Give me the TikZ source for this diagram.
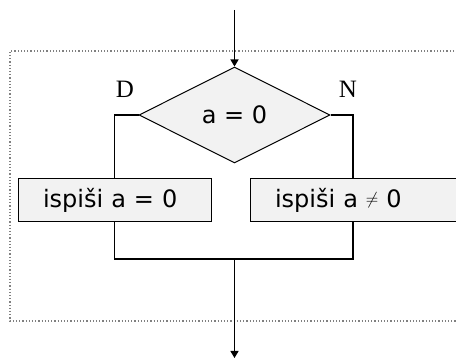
\documentclass[tikz,border=0pt]{standalone}
\usepackage{fontspec}
\setmainfont{DejaVu Sans}
\newfontfamily\labelfont{Liberation Serif}
\usetikzlibrary{shapes.geometric,arrows.meta}
\newcommand{\notequal}{\raisebox{3.5pt}{\fontsize{18}{18}\selectfont$\neq$}}
\begin{document}
\begin{tikzpicture}[x=1pt,y=-1pt,
  flow/.style={line width=1.2pt,draw=black},
  arr/.style={flow,-{Triangle[length=7pt,width=8pt]}},
  cond/.style={diamond,draw=black,line width=1pt,fill=gray!10,inner sep=0pt,
    minimum width=191pt,minimum height=96pt,font=\fontsize{24}{26}\selectfont},
  act/.style={rectangle,draw=black,line width=1pt,fill=gray!10,inner ysep=0pt,
    inner xsep=25pt,minimum height=43pt,align=left,
    font=\fontsize{24}{26}\selectfont},
  branch/.style={font=\labelfont\fontsize{25}{27}\selectfont}]
  \useasboundingbox (0,0) rectangle (456,358);
  % dotted block frame
  \draw[gray,dotted,line width=1.2pt] (470,51) -- (10,51) -- (10,321) -- (470,321);
  % nodes
  \coordinate (in) at (234.5,10);
  \node[cond] (dia) at (234.5,115) {a = 0};
  \node[act,text width=143pt] (lbox) at (114.5,200.5) {ispiši a = 0};
  \node[act,text width=170pt] (rbox) at (360,200.5) {ispiši a \notequal{} 0};
  \node[branch] (yes) at (125,89) {D};
  \node[branch] (no) at (348,89) {N};
  \coordinate (rj) at (353,115);
  \coordinate (mj) at (234.5,259);
  \coordinate (out) at (234.5,358);
  % connectors
  \draw[arr] (in) -- (dia.north);
  \draw[flow] (dia.west) -| (lbox.north);
  \draw[flow] (dia.east) -- (rj) -- (rj |- rbox.north);
  \draw[flow] (lbox.south) -- (lbox.south |- mj) -- (rj |- mj) -- (rj |- rbox.south);
  \draw[arr] (mj) -- (out);
\end{tikzpicture}
\end{document}
